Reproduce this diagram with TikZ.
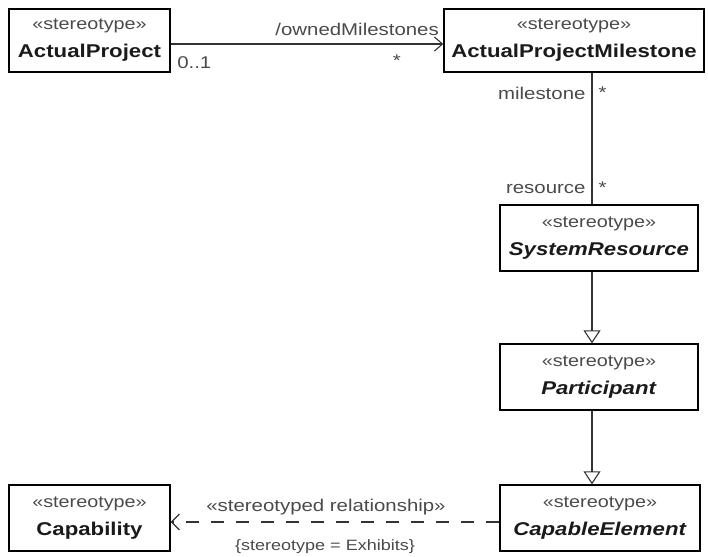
\documentclass[tikz,border=0pt]{standalone}
\usepackage{fontspec}
\setmainfont{Liberation Sans}[FakeStretch=1.2]
\usetikzlibrary{positioning, arrows.meta, calc}
\definecolor{umlline}{HTML}{333333}
\definecolor{umlstereo}{HTML}{4A4A4A}
\definecolor{umlname}{HTML}{1A1A1A}
\newcommand{\stereo}{{\color{umlstereo}\mdseries\upshape\fontsize{16.5}{22}\selectfont «stereotype»}}

\begin{document}
\begin{tikzpicture}[x=1pt, y=-1pt,
    umlclass/.style={draw=black, line width=1.4pt, align=center, inner sep=0pt,
      text=umlname, font=\fontsize{18.5}{23}\selectfont\bfseries},
    assoc/.style={draw=umlline, line width=1.1pt},
    rolelabel/.style={text=umlstereo, font=\fontsize{17}{18}\selectfont, inner sep=0pt}]
    \useasboundingbox (0,0) rectangle (708,556);
    % classes
    \node[umlclass, minimum width=161pt, minimum height=63pt] (ap) at (89.5,40.5)
      {\stereo\\[5pt]ActualProject};
    \node[umlclass, minimum width=260pt, minimum height=63pt] (apm) at (574,40.5)
      {\stereo\\[5pt]ActualProjectMilestone};
    \node[umlclass, minimum width=198pt, minimum height=66pt] (sr) at (599,238)
      {\stereo\\[5pt]\textit{SystemResource}};
    \node[umlclass, minimum width=198pt, minimum height=66pt] (part) at (599,377)
      {\stereo\\[5pt]\textit{Participant}};
    \node[umlclass, minimum width=200pt, minimum height=66pt] (ce) at (600,518)
      {\stereo\\[5pt]\textit{CapableElement}};
    \node[umlclass, minimum width=161pt, minimum height=66pt] (cap) at (89.5,518)
      {\stereo\\[5pt]Capability};
    \coordinate (vx) at (592,0);
    % association ActualProject -> milestones
    \draw[assoc, -{Straight Barb[length=8pt, width=14pt]}] (ap.east |- 0,44) -- (apm.west |- 0,44)
      node[pos=1, above left, rolelabel, xshift=-4pt, yshift=8pt] (owned) {/ownedMilestones}
      node[pos=0, below right, rolelabel, xshift=6pt, yshift=-12pt] (m01) {0..1}
      node[pos=1, below left, rolelabel, xshift=-42pt, yshift=-10pt] (m1) {*};
    % association milestone -- resource
    \draw[assoc] (apm.south -| vx) -- (sr.north -| vx)
      node[pos=0, below left, rolelabel, xshift=-6pt, yshift=-14pt] (ms) {milestone}
      node[pos=0, below right, rolelabel, xshift=6pt, yshift=-14pt] (m2) {*}
      node[pos=1, above left, rolelabel, xshift=-6pt, yshift=10pt] (rs) {resource}
      node[pos=1, above right, rolelabel, xshift=6pt, yshift=10pt] (m3) {*};
    % generalizations
    \draw[assoc, -{Triangle[open, length=13pt, width=17pt]}] (sr.south -| vx) -- (part.north -| vx);
    \draw[assoc, -{Triangle[open, length=13pt, width=17pt]}] (part.south -| vx) -- (ce.north -| vx);
    % dependency
    \draw[assoc, dash pattern=on 13pt off 12pt, -{Straight Barb[length=8pt, width=16pt]}]
      (ce.west |- 0,522) -- (cap.east |- 0,522)
      node[midway, above, rolelabel, xshift=-9pt, yshift=6pt] (rel) {«stereotyped relationship»}
      node[midway, below, rolelabel, font=\fontsize{15}{17}\selectfont, xshift=-10pt, yshift=-17pt] (tag)
        {\{stereotype = Exhibits\}};
  \end{tikzpicture}
\end{document}
